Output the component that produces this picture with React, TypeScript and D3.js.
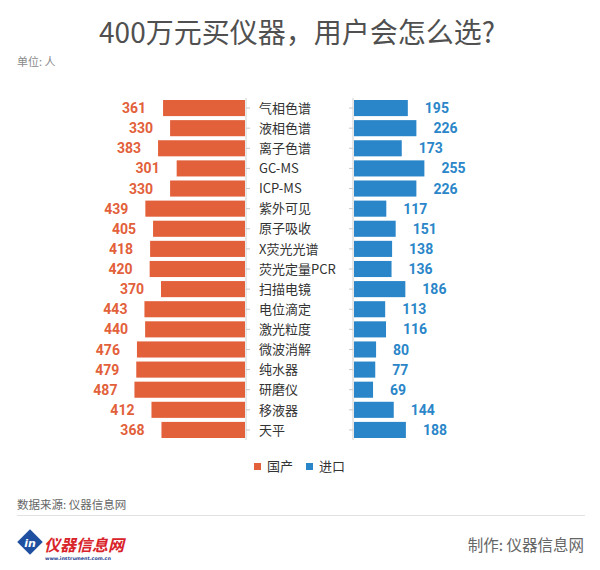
import React from "react";
import * as d3 from "d3";

const categories = ["气相色谱","液相色谱","离子色谱","GC-MS","ICP-MS","紫外可见","原子吸收","X荧光光谱","荧光定量PCR","扫描电镜","电位滴定","激光粒度","微波消解","纯水器","研磨仪","移液器","天平"];
const domestic = [361,330,383,301,330,439,405,418,420,370,443,440,476,479,487,412,368];
const imported = [195,226,173,255,226,117,151,138,136,186,113,116,80,77,69,144,188];
const seriesNames = ["国产","进口"];

const ORANGE = "#E2603A";
const BLUE = "#2A86C8";

export default function App() {
  const W = 600, H = 570;
  const y = d3.scaleBand<string>().domain(categories).range([98, 440]).paddingInner(0.2).paddingOuter(0.1);
  const leftAxisX = 246;
  const rightAxisX = 354;
  const xl = d3.scaleLinear().domain([0, 500]).range([0, 113.5]);
  const xr = d3.scaleLinear().domain([0, 300]).range([0, 82.8]);
  const num = "Roboto, 'DejaVu Sans', sans-serif";
  const cjk = "'Noto Sans CJK SC', 'Noto Sans', sans-serif";
  return (
    <svg width={W} height={H} style={{ position: "absolute", left: 0, top: 0, background: "#fff" }}>
      <rect width={W} height={H} fill="#fff" />
      <text x={297} y={43} textAnchor="middle" fontFamily={cjk} fontSize={28} fill="#505050">400万元买仪器，用户会怎么选?</text>
      <text x={17} y={66} fontFamily={cjk} fontSize={11} fill="#8a8a8a">单位: 人</text>

      <line x1={leftAxisX} x2={leftAxisX} y1={98} y2={440} stroke="#d0d0d0" />
      <line x1={rightAxisX - 1} x2={rightAxisX - 1} y1={98} y2={440} stroke="#d0d0d0" />
      {categories.map((c, i) => {
        const yc = (y(c) as number) + y.bandwidth() / 2;
        const y0 = y(c) as number;
        const lw = xl(domestic[i]);
        const rw = xr(imported[i]);
        return (
          <g key={c}>
            <line x1={leftAxisX} x2={leftAxisX + 4} y1={yc} y2={yc} stroke="#c8c8c8" />
            <line x1={rightAxisX - 5} x2={rightAxisX - 1} y1={yc} y2={yc} stroke="#c8c8c8" />
            <rect x={leftAxisX - 1 - lw} y={y0} width={lw} height={y.bandwidth()} fill={ORANGE} />
            <rect x={rightAxisX} y={y0} width={rw} height={y.bandwidth()} fill={BLUE} />
            <text x={leftAxisX - 1 - lw - 17} y={yc} dy="0.36em" textAnchor="end" fontFamily={num} fontWeight="bold" fontSize={14} fill={ORANGE}>{domestic[i]}</text>
            <text x={rightAxisX + rw + 17} y={yc} dy="0.36em" textAnchor="start" fontFamily={num} fontWeight="bold" fontSize={14} fill={BLUE}>{imported[i]}</text>
            <text x={259} y={yc} dy="0.36em" fontFamily={cjk} fontSize={13} fill="#333">{c}</text>
          </g>
        );
      })}

      <rect x={254} y={463} width={7} height={7} fill={ORANGE} />
      <text x={267} y={466.5} dy="0.36em" fontFamily={cjk} fontSize={13} fill="#333">{seriesNames[0]}</text>
      <rect x={306} y={463} width={7} height={7} fill={BLUE} />
      <text x={319} y={466.5} dy="0.36em" fontFamily={cjk} fontSize={13} fill="#333">{seriesNames[1]}</text>

      <text x={17} y={509} fontFamily={cjk} fontSize={11.5} fill="#666">数据来源: 仪器信息网</text>
      <line x1={17} x2={585} y1={515.5} y2={515.5} stroke="#e2e2e2" />

      <g>
        <rect x={21} y={533} width={18} height={18} fill="#1F4FA0" transform="rotate(45 30 542)" />
        <text x={30} y={546.5} textAnchor="middle" fontFamily="'DejaVu Sans', sans-serif" fontSize={11} fontStyle="italic" fontWeight="bold" fill="#fff">in</text>
        <text x={44} y={551} fontFamily={cjk} fontSize={16} fontWeight="bold" fontStyle="italic" fill="#D9232A">仪器信息网</text>
        <text x={45} y={560} fontFamily="'DejaVu Sans', sans-serif" fontSize={4.8} fontWeight="bold" fill="#1F3F8F">www.instrument.com.cn</text>
      </g>
      <text x={584} y={551} textAnchor="end" fontFamily={cjk} fontSize={15.5} fill="#666">制作: 仪器信息网</text>
    </svg>
  );
}
